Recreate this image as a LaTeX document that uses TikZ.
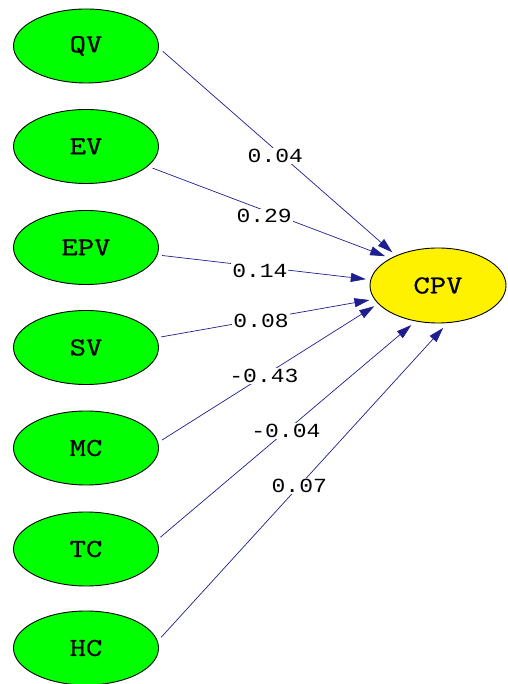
\documentclass[tikz,border=0pt]{standalone}
\usepackage{fontspec}
\newfontfamily\nodefont[FakeStretch=1.2,FakeBold=0.6]{lmmono10-regular.otf}
\newfontfamily\coeffont[FakeStretch=1.15]{Liberation Mono}
\usetikzlibrary{shapes.geometric,arrows.meta}
\definecolor{pathblue}{RGB}{30,30,140}
\tikzset{
  latent/.style={ellipse, draw, line width=0.9pt, fill=green, minimum width=145pt, minimum height=74pt,
    outer sep=5pt, font=\nodefont\fontsize{26}{26}\selectfont},
  outcome/.style={latent, fill=yellow, minimum width=136pt, minimum height=75pt},
  coef/.style={fill=white, inner sep=1pt, font=\coeffont\fontsize{20}{20}\selectfont},
  effect/.style={draw=pathblue, line width=0.7pt, -{Triangle[length=15pt,width=9pt]}}
}
\begin{document}
\begin{tikzpicture}[x=1pt,y=1pt]
    \useasboundingbox (0,0) rectangle (507,684);

    \node[latent] (QV) at (86,638) {QV};
    \node[latent] (EV) at (86,537.5) {EV};
    \node[latent] (EPV) at (86,436.5) {EPV};
    \node[latent] (SV) at (86,336.5) {SV};
    \node[latent] (MC) at (86,236) {MC};
    \node[latent] (TC) at (86,135) {TC};
    \node[latent] (HC) at (86,36) {HC};

    \node[outcome] (CPV) at (438,398.5) {CPV};

    \draw[effect] (QV.-4.5) -- node[coef, pos=0.49, yshift=-6pt] {0.04} (CPV.144);
    \draw[effect] (EV.-18) -- node[coef, pos=0.48, yshift=-6pt] {0.29} (CPV.151);
    \draw[effect] (EPV.-6.3) -- node[coef, pos=0.48, yshift=-4pt] {0.14} (CPV.175);
    \draw[effect] (SV.8) -- node[coef, pos=0.48, yshift=-2pt] {0.08} (CPV.-168);
    \draw[effect] (MC.6.7) -- node[coef, pos=0.48] {-0.43} (CPV.-162);
    \draw[effect] (TC.9.6) -- node[coef, pos=0.5] {-0.04} (CPV.-124);
    \draw[effect] (HC.8.1) -- node[coef, pos=0.49] {0.07} (CPV.-83);
\end{tikzpicture}
\end{document}
